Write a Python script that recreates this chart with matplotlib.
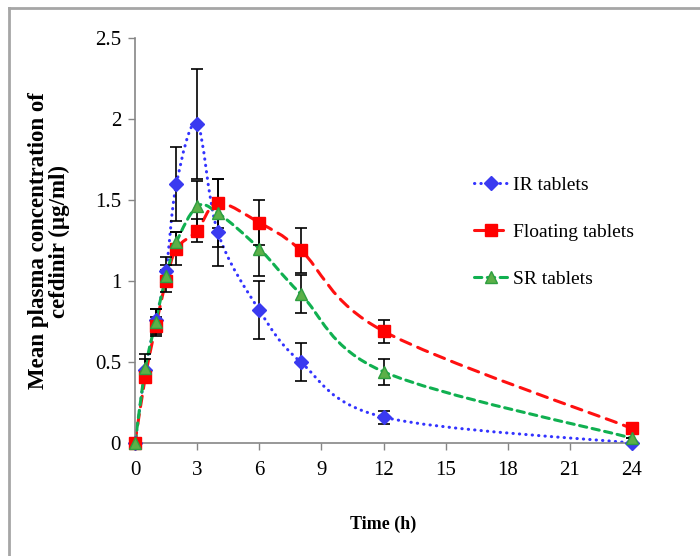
import numpy as np
import matplotlib
matplotlib.use('Agg')
import matplotlib.pyplot as plt
from matplotlib.path import Path
from matplotlib.patches import PathPatch
from matplotlib.lines import Line2D

# data
time_h = [0, 0.5, 1, 1.5, 2, 3, 4, 6, 8, 12, 24]

ir_conc = [0, 0.45, 0.76, 1.06, 1.60, 1.97, 1.30, 0.82, 0.50, 0.16, 0.0]
ir_err = [0, 0.07, 0.07, 0.09, 0.23, 0.34, 0.21, 0.18, 0.12, 0.04, 0.0]

fl_conc = [0, 0.41, 0.72, 1.00, 1.20, 1.31, 1.48, 1.36, 1.19, 0.69, 0.09]
fl_err = [0, 0.04, 0.06, 0.07, 0.10, 0.07, 0.15, 0.14, 0.14, 0.07, 0.0]

sr_conc = [0, 0.46, 0.75, 1.03, 1.24, 1.46, 1.42, 1.20, 0.92, 0.44, 0.03]
sr_err = [0, 0.09, 0.08, 0.07, 0.06, 0.16, 0.21, 0.17, 0.12, 0.08, 0.0]

labels = ['IR tablets', 'Floating tablets', 'SR tablets']
x_ticks = [0, 3, 6, 9, 12, 15, 18, 21, 24]
y_ticks = [0, 0.5, 1, 1.5, 2, 2.5]
y_tick_labels = ['0', '0.5', '1', '1.5', '2', '2.5']

plt.rcParams['font.family'] = ['Liberation Serif', 'DejaVu Serif']


def smooth_path(x, y):
	# Excel style smoothed line: cubic bezier segments (catmull-rom, 1/6)
	p = np.column_stack([x, y]).astype(float)
	n = len(p)
	verts = [p[0]]
	codes = [Path.MOVETO]
	for i in range(n - 1):
		p0 = p[i - 1] if i > 0 else p[i]
		p3 = p[i + 2] if i + 2 < n else p[i + 1]
		c1 = p[i] + (p[i + 1] - p0) / 6.0
		c2 = p[i + 1] - (p3 - p[i]) / 6.0
		verts += [c1, c2, p[i + 1]]
		codes += [Path.CURVE4] * 3
	return Path(verts, codes)


fig = plt.figure(figsize=(7, 5.56), dpi=100)
ax = fig.add_axes([135/700., 113/556., 497/700., 405/556.])

series = [
	(ir_conc, ir_err, '#3333ff', (0, (0.1, 2.0)), 2.2, 'D', '#3a3af0', '#3a3af0', 7),
	(fl_conc, fl_err, '#ff1010', (0, (3.5, 2.5)), 2.2, 's', '#ff0000', '#ff0000', 8),
	(sr_conc, sr_err, '#10b050', (0, (2.4, 1.8)), 2.2, '^', '#5cb048', '#2e9e40', 8),
]

handles = []
for conc, err, col, ls, lw, mk, mfc, mec, ms in series:
	patch = PathPatch(smooth_path(time_h, conc), fill=False, edgecolor=col,
		linestyle=ls, lw=lw, capstyle='round', zorder=2)
	ax.add_patch(patch)
	ax.errorbar(time_h, conc, yerr=err, fmt='none', ecolor='black',
		elinewidth=1.2, capsize=4, capthick=1.2, zorder=3)
	ax.plot(time_h, conc, linestyle='none', marker=mk, markersize=ms,
		markerfacecolor=mfc, markeredgecolor=mec, zorder=4, clip_on=False)
	handles.append(Line2D([], [], color=col, linestyle=ls, lw=lw,
		dash_capstyle='round', marker=mk, markersize=ms,
		markerfacecolor=mfc, markeredgecolor=mec))

ax.set_xlim(0, 24)
ax.set_ylim(0, 2.5)
ax.set_xticks(x_ticks)
ax.set_yticks(y_ticks)
ax.set_yticklabels(y_tick_labels)
ax.tick_params(axis='both', direction='out', length=5, width=1, color='#868686',
	labelsize=15)
ax.tick_params(axis='y', pad=5)
ax.tick_params(axis='x', pad=8)
for s in ['top', 'right']:
	ax.spines[s].set_visible(False)
for s in ['left', 'bottom']:
	ax.spines[s].set_color('#868686')
	ax.spines[s].set_linewidth(1.2)

ax.set_xlabel('Time (h)', fontsize=13, fontweight='bold', labelpad=26)
fig.text(49/700., 1 - 241/556., 'Mean plasma concentration of\ncefdinir (\u00b5g/ml)',
	fontsize=16.5, fontweight='bold', rotation=90, ha='center', va='center',
	multialignment='center', linespacing=0.95)

fig.legend(handles, labels, loc='center left',
	bbox_to_anchor=(464/700., 1 - 232/556.), frameon=False, fontsize=14,
	handlelength=1.75, handletextpad=0.25, labelspacing=1.5, borderpad=0)

# grey frame around the picture (top and left edges visible)
fig.add_artist(Line2D([9/700., 1], [1 - 8/556., 1 - 8/556.], color='#a6a6a6', lw=2,
	transform=fig.transFigure))
fig.add_artist(Line2D([9/700., 9/700.], [0, 1 - 8/556.], color='#a6a6a6', lw=2,
	transform=fig.transFigure))

fig.savefig('out.png', dpi=100)
